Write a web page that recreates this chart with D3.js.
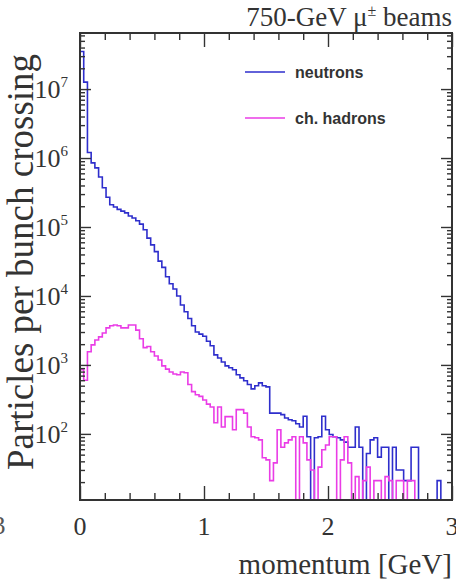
<!DOCTYPE html>
<html>
<head>
<meta charset="utf-8">
<script src="https://cdn.jsdelivr.net/npm/d3@7"></script>
<style>
    body { margin: 0; background: #ffffff; }
    #chart { width: 456px; height: 582px; }
</style>
</head>
<body>
<div id="chart"></div>
<script>

// histogram binning (GeV)
var momentumRange = [0, 3];
var binWidth = 0.03;

// particles per bunch crossing, one value per bin (0 = empty bin)
var neutrons = [
    3.5e7, 1.26e7, 1.2e6, 8.5e5, 7.2e5, 5.3e5, 3.7e5, 2.7e5, 2.1e5, 1.95e5,
    1.8e5, 1.7e5, 1.6e5, 1.44e5, 1.35e5, 1.23e5, 1.1e5, 9.1e4, 6.9e4, 5.5e4,
    4.4e4, 3.2e4, 2.6e4, 1.9e4, 1.5e4, 1.26e4, 1.0e4, 7.4e3, 5.9e3, 4.7e3,
    3.7e3, 3.0e3, 2.8e3, 2.6e3, 2.2e3, 1.9e3, 1.4e3, 1.26e3, 1.1e3, 970,
    910, 850, 720, 650, 590, 520, 450, 500, 550, 500,
    480, 200, 200, 200, 190, 170, 160, 155, 140, 126,
    180, 91, 0, 88, 91, 180, 115, 98, 91, 88,
    82, 76, 64, 64, 126, 64, 0, 52, 82, 88,
    46, 64, 64, 0, 64, 30, 30, 21, 21, 64,
    64, 0, 0, 0, 0, 0, 21, 0, 0, 0
];

var chHadrons = [
    850, 600, 1550, 1950, 2300, 2550, 2900, 3450, 3700, 3800,
    3700, 3450, 3450, 3800, 3800, 3200, 2400, 1780, 1850, 1550,
    1350, 1180, 970, 870, 790, 740, 720, 790, 770, 520,
    410, 370, 350, 310, 270, 245, 145, 245, 126, 178,
    178, 115, 225, 225, 200, 126, 91, 88, 82, 45,
    42, 21, 38, 115, 64, 74, 82, 91, 0, 91,
    74, 42, 30, 0, 33, 59, 69, 91, 91, 0,
    42, 91, 38, 0, 24, 0, 21, 33, 0, 21,
    21, 0, 24, 21, 0, 21, 21, 0, 21, 21,
    0, 0, 0, 0, 0, 0, 0, 0, 0, 0
];

var yRange = [11, 6.5e7];
var xMajorTicks = [0, 1, 2, 3];
var xMinorTicks = [0.2, 0.4, 0.6, 0.8, 1.2, 1.4, 1.6, 1.8, 2.2, 2.4, 2.6, 2.8];
var yDecades = [2, 3, 4, 5, 6, 7];

var seriesNames = ["neutrons", "ch. hadrons"];
var seriesColors = ["#2e2ecc", "#ea3ce6"];

function histChart(value) {

    // reset svg
    d3.select(value.id).html("");

    var width = value.size.width - value.margin.left - value.margin.right;
    var height = value.size.height - value.margin.top - value.margin.bottom;

    var root = d3.select(value.id)
        .append("svg")
        .attr("width", value.size.width)
        .attr("height", value.size.height)
        .style("background", "#ffffff");

    var svg = root.append("g")
        .attr("transform",
            "translate(" + value.margin.left + "," + value.margin.top + ")");

    var x = d3.scaleLinear()
        .domain(momentumRange)
        .range([0, width]);

    var y = d3.scaleLog()
        .domain(yRange)
        .range([height, 0]);

    svg.append("clipPath")
        .attr("id", "plot-clip")
        .append("rect")
        .attr("width", width)
        .attr("height", height);

    // histograms as steps, empty bins drop to the floor
    var line = d3.line()
        .curve(d3.curveStepAfter)
        .x(function (d) { return x(d.x) })
        .y(function (d) { return d.v > 0 ? y(d.v) : height + 2 });

    value.items.forEach(item => {
        var pts = [{ x: momentumRange[0], v: 0 }];
        item.data.forEach(function (v, i) {
            pts.push({ x: momentumRange[0] + i * binWidth, v: v });
        });
        pts.push({ x: momentumRange[0] + item.data.length * binWidth, v: item.data[item.data.length - 1] });

        svg.append("path")
            .datum(pts)
            .attr("clip-path", "url(#plot-clip)")
            .attr("fill", "none")
            .attr("stroke", item.stroke)
            .attr("stroke-width", 1.6)
            .attr("d", line);
    });

    // minor ticks on all four sides
    var minorY = [];
    for (var e = 1; e <= 7; e++) {
        for (var m = 2; m <= 9; m++) {
            var t = m * Math.pow(10, e);
            if (t > yRange[0] && t < yRange[1]) minorY.push(t);
        }
    }

    var axes = [
        { g: d3.axisBottom(x).tickValues(xMinorTicks).tickSize(-7), t: "translate(0," + height + ")" },
        { g: d3.axisTop(x).tickValues(xMinorTicks).tickSize(-7), t: "translate(0,0)" },
        { g: d3.axisBottom(x).tickValues(xMajorTicks).tickSize(-14), t: "translate(0," + height + ")" },
        { g: d3.axisTop(x).tickValues(xMajorTicks).tickSize(-14), t: "translate(0,0)" },
        { g: d3.axisLeft(y).tickValues(minorY).tickSize(-5), t: "translate(0,0)" },
        { g: d3.axisRight(y).tickValues(minorY).tickSize(-5), t: "translate(" + width + ",0)" },
        { g: d3.axisLeft(y).tickValues(yDecades.map(d => Math.pow(10, d))).tickSize(-11), t: "translate(0,0)" },
        { g: d3.axisRight(y).tickValues(yDecades.map(d => Math.pow(10, d))).tickSize(-11), t: "translate(" + width + ",0)" }
    ];

    axes.forEach(a => {
        var g = svg.append("g")
            .attr("transform", a.t)
            .call(a.g.tickFormat(""));
        g.selectAll("line")
            .style("stroke", value.axis.stroke)
            .style("stroke-width", 1.4);
        g.select("path.domain").remove();
    });

    // frame
    svg.append("rect")
        .attr("width", width)
        .attr("height", height)
        .attr("fill", "none")
        .attr("stroke", value.axis.stroke)
        .attr("stroke-width", 2);

    // x tick labels
    svg.selectAll(".xlabel")
        .data(xMajorTicks)
        .enter()
        .append("text")
        .attr("class", "xlabel")
        .attr("x", function (d) { return x(d) })
        .attr("y", height + 35)
        .attr("text-anchor", "middle")
        .style("font", value.axis.font)
        .style("fill", value.axis.text)
        .text(function (d) { return d; });

    // y tick labels 10^n
    var ylab = svg.selectAll(".ylabel")
        .data(yDecades)
        .enter()
        .append("text")
        .attr("class", "ylabel")
        .attr("x", -12)
        .attr("y", function (d) { return y(Math.pow(10, d)) + 9 })
        .attr("text-anchor", "end")
        .style("font", value.axis.font)
        .style("fill", value.axis.text);
    ylab.append("tspan").text("10");
    ylab.append("tspan")
        .attr("dy", -11)
        .style("font-size", "15px")
        .text(function (d) { return d; });

    // axis titles
    root.append("text")
        .attr("x", 452)
        .attr("y", 574)
        .attr("text-anchor", "end")
        .style("font", "29px 'Liberation Serif', serif")
        .style("fill", value.axis.text)
        .text("momentum [GeV]");

    root.append("text")
        .attr("transform", "translate(33,262) rotate(-90)")
        .attr("text-anchor", "middle")
        .style("font", "37px 'Liberation Serif', serif")
        .style("fill", value.axis.text)
        .text("Particles per bunch crossing");

    var title = root.append("text")
        .attr("x", 452)
        .attr("y", 26)
        .attr("text-anchor", "end")
        .style("font", "27px 'Liberation Serif', serif")
        .style("fill", value.axis.text);
    title.append("tspan").text("750-GeV μ");
    title.append("tspan").attr("dy", -10).style("font-size", "16px").text("±");
    title.append("tspan").attr("dy", 10).text(" beams");

    // leftover label of the neighbouring panel
    root.append("text")
        .attr("x", -1)
        .attr("y", 534)
        .attr("text-anchor", "middle")
        .style("font", value.axis.font)
        .style("fill", "#555555")
        .text("3");

    // legend
    var legend = svg.selectAll(".legend")
        .data(value.items)
        .enter()
        .append("g")
        .attr("class", "legend")
        .attr("transform", function (d, i) {
            return "translate(165," + (39 + i * 46) + ")";
        });

    legend.append("line")
        .attr("x1", 0)
        .attr("x2", 40)
        .attr("stroke", function (d) { return d.stroke; })
        .attr("stroke-width", 1.6);

    legend.append("text")
        .attr("x", 50)
        .attr("y", 6)
        .style("font", "bold 16px 'Liberation Sans', Arial, sans-serif")
        .style("fill", "#333333")
        .text(function (d) { return d.name; });
}

histChart({
    id: "#chart",
    size: { width: 456, height: 582 },
    margin: { top: 33, right: 4, bottom: 82, left: 80 },
    axis: {
        stroke: "#333333",
        text: "#333333",
        font: "26px 'Liberation Serif', serif"
    },
    items: [
        { name: seriesNames[0], data: neutrons, stroke: seriesColors[0] },
        { name: seriesNames[1], data: chHadrons, stroke: seriesColors[1] }
    ]
});

</script>
</body>
</html>
